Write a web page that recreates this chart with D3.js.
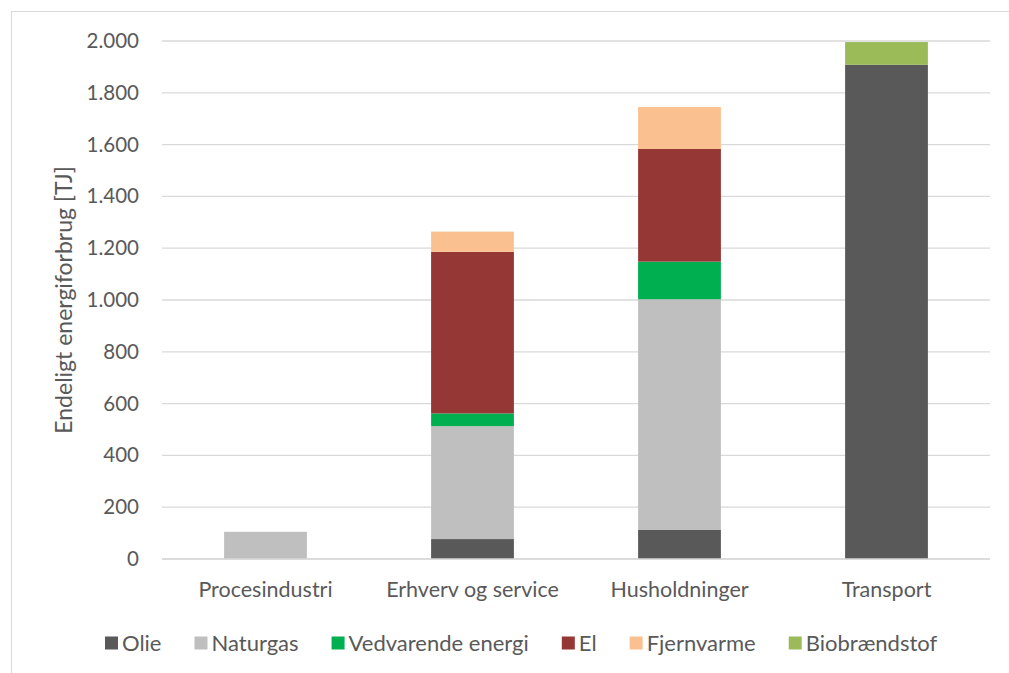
<!DOCTYPE html>
<html>
<head>
<meta charset="utf-8">
<script src="https://cdn.jsdelivr.net/npm/d3@7"></script>
<style>
  html, body { margin: 0; padding: 0; background: #fff; }
  svg { display: block; }
  text { font-family: Lato, "Open Sans", sans-serif; fill: #595959; }
</style>
</head>
<body>
<svg id="chart" width="1009" height="673"></svg>
<script>
// Final energy consumption by sector, TJ
const categories = ["Procesindustri", "Erhverv og service", "Husholdninger", "Transport"];
const seriesNames = ["Olie", "Naturgas", "Vedvarende energi", "El", "Fjernvarme", "Biobrændstof"];
const olie          = [0,   77,  112, 1908];
const naturgas      = [105, 436, 891, 0];
const vedvarende    = [0,   49,  145, 0];
const el            = [0,   624, 435, 0];
const fjernvarme    = [0,   78,  162, 0];
const biobraendstof = [0,   0,   0,   88];
const yTicks = [0, 200, 400, 600, 800, 1000, 1200, 1400, 1600, 1800, 2000];
const yTitle = "Endeligt energiforbrug [TJ]";
const colors = ["#595959", "#bfbfbf", "#00b050", "#953735", "#fac090", "#9bbb59"];

const seriesValues = [olie, naturgas, vedvarende, el, fjernvarme, biobraendstof];
const rows = categories.map((c, i) => {
  const r = { category: c };
  seriesNames.forEach((s, j) => r[s] = seriesValues[j][i]);
  return r;
});

const svg = d3.select("#chart");
const fmt = d3.formatLocale({ decimal: ",", thousands: ".", grouping: [3], currency: ["", " kr."] }).format(",d");

// chart frame
svg.append("rect")
  .attr("x", 11.5).attr("y", 11.5).attr("width", 1009).attr("height", 680)
  .attr("fill", "none").attr("stroke", "#d9d9d9").attr("stroke-width", 1);

const plot = { left: 162, right: 990, top: 41, bottom: 559 };

const x = d3.scaleBand().domain(categories)
  .range([plot.left, plot.right]).paddingInner(0.6).paddingOuter(0.3);
const y = d3.scaleLinear().domain([0, 2000]).range([plot.bottom, plot.top]);

// horizontal gridlines
svg.append("g").selectAll("line").data(yTicks).join("line")
  .attr("x1", plot.left).attr("x2", plot.right)
  .attr("y1", d => y(d)).attr("y2", d => y(d))
  .attr("stroke", "#d9d9d9").attr("stroke-width", 1.3);

// y axis labels
const yAxis = d3.axisLeft(y).tickValues(yTicks).tickFormat(fmt).tickSize(0).tickPadding(0);
const ya = svg.append("g").attr("transform", `translate(${plot.left - 23},0)`).call(yAxis);
ya.select(".domain").remove();
ya.selectAll("text").attr("font-size", 20.5).attr("fill", "#595959")
  .style("font-family", "Lato, 'Open Sans', sans-serif");

// stacked bars
const stack = d3.stack().keys(seriesNames)(rows);
svg.append("g").selectAll("g").data(stack).join("g")
  .attr("fill", (d, i) => colors[i])
  .selectAll("rect").data(d => d.filter(p => p[1] - p[0] > 0)).join("rect")
  .attr("x", d => x(d.data.category))
  .attr("width", x.bandwidth())
  .attr("y", d => y(d[1]))
  .attr("height", d => y(d[0]) - y(d[1]));

// x axis
const xAxis = d3.axisBottom(x).tickSize(0).tickPadding(0);
const xa = svg.append("g").attr("transform", `translate(0,${plot.bottom})`).call(xAxis);
xa.select(".domain").remove();
xa.selectAll("text").attr("font-size", 21.5).attr("fill", "#595959").attr("dy", "0").attr("y", 38)
  .style("font-family", "Lato, 'Open Sans', sans-serif");
svg.append("line")
  .attr("x1", plot.left).attr("x2", plot.right)
  .attr("y1", plot.bottom).attr("y2", plot.bottom)
  .attr("stroke", "#d9d9d9").attr("stroke-width", 1.3);

// y axis title
svg.append("text")
  .attr("transform", `translate(72,${(plot.top + plot.bottom) / 2}) rotate(-90)`)
  .attr("text-anchor", "middle")
  .attr("font-size", 23)
  .text(yTitle);

// legend
const legend = svg.append("g").attr("transform", "translate(105,643)");
let lx = 0;
seriesNames.forEach((name, i) => {
  const g = legend.append("g").attr("transform", `translate(${lx},0)`);
  g.append("rect").attr("x", 0).attr("y", -6.5).attr("width", 13).attr("height", 13).attr("fill", colors[i]);
  const t = g.append("text").attr("x", 17).attr("y", 0).attr("dy", "0.35em")
    .attr("font-size", 22).text(name);
  lx += 17 + t.node().getComputedTextLength() + 33;
});
</script>
</body>
</html>
